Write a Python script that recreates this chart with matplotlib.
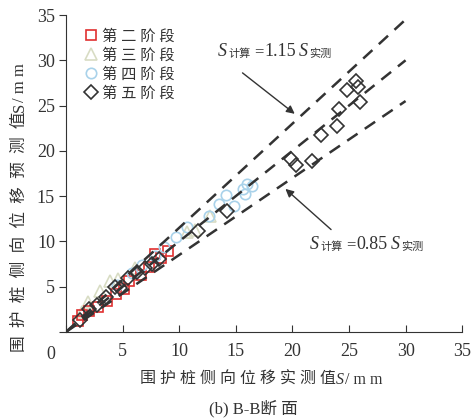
import matplotlib
matplotlib.use("Agg")
import matplotlib.pyplot as plt
from matplotlib.transforms import IdentityTransform

plt.rcParams['font.family'] = ['Liberation Serif', 'Noto Sans CJK SC']

# stage 2 (red squares)
s2_x = [1.1, 1.4, 2.0, 2.8, 3.6, 4.4, 5.1, 5.6, 6.6, 7.3, 7.9, 8.4, 9.0]
s2_y = [1.2, 1.9, 2.3, 2.8, 3.4, 4.2, 4.7, 5.6, 6.3, 7.2, 8.6, 8.2, 8.9]
# stage 3 (triangles)
s3_x = [1.4, 1.9, 3.0, 3.9, 4.6, 6.1, 10.7, 11.4, 12.7]
s3_y = [2.2, 3.3, 4.5, 5.6, 5.8, 7.1, 11.0, 11.3, 12.8]
# stage 4 (circles)
s4_x = [4.5, 5.8, 6.7, 7.9, 8.7, 9.7, 10.7, 12.6, 13.5, 14.1, 14.8, 15.6, 15.8, 16.0, 16.4]
s4_y = [5.2, 6.5, 7.4, 8.4, 9.4, 10.5, 11.6, 12.8, 14.1, 15.1, 13.9, 15.8, 15.2, 16.3, 16.1]
# stage 5 (diamonds)
s5_x = [1.2, 2.0, 2.7, 3.5, 4.3, 4.8, 5.5, 6.3, 7.0, 7.6, 8.2, 11.7, 14.2,
        19.9, 20.3, 21.7, 22.5, 23.9, 24.1, 24.8, 25.6, 25.8, 26.0]
s5_y = [1.3, 2.5, 3.0, 3.8, 5.0, 4.8, 5.9, 6.6, 7.1, 7.5, 8.0, 11.1, 13.3,
        19.1, 18.4, 18.9, 21.8, 22.7, 24.6, 26.7, 27.7, 27.1, 25.4]

labels = ['第 二 阶 段', '第 三 阶 段', '第 四 阶 段', '第 五 阶 段']
ratios = [1.15, 1.0, 0.85]
line_x = [0, 30]
ticks = [0, 5, 10, 15, 20, 25, 30, 35]

W, H = 475, 418
fig = plt.figure(figsize=(W / 100, H / 100), dpi=100)
ax = fig.add_axes([0.139, 0.206, 0.834, 0.758])
dark = '#333333'

for r in ratios:
    ax.plot(line_x, [v * r for v in line_x], color=dark, lw=1.8,
            dashes=(5, 3.5), zorder=3)

ax.plot(s2_x, s2_y, 's', ms=7, mfc='none', mec='#e03030', mew=1.2, label=labels[0], zorder=2)
ax.plot(s3_x, s3_y, '^', ms=8, mfc='none', mec='#d8dcc4', mew=1.2, label=labels[1], zorder=1)
ax.plot(s4_x, s4_y, 'o', ms=7.5, mfc='none', mec='#a9d2ea', mew=1.2, label=labels[2], zorder=2)
ax.plot(s5_x, s5_y, 'D', ms=7.5, mfc='none', mec=dark, mew=1.2, label=labels[3], zorder=4)

ax.set_xlim(0, 35)
ax.set_ylim(0, 35)
ax.set_xticks(ticks)
ax.set_yticks(ticks)
ax.set_xticklabels([''] + [str(t) for t in ticks[1:]])
ax.set_yticklabels([''] + [str(t) for t in ticks[1:]])
ax.tick_params(axis='x', direction='in', labelsize=13, length=5, pad=8)
ax.tick_params(axis='y', direction='out', labelsize=13, length=5, pad=3)
ax.spines['top'].set_visible(False)
ax.spines['right'].set_visible(False)
for s in ['left', 'bottom']:
    ax.spines[s].set_color(dark)
ax.tick_params(colors=dark)
ax.text(-1.3, -1.6, '0', ha='center', va='top', fontsize=13, color=dark)

leg = ax.legend(loc='upper left', bbox_to_anchor=(0.01, 1.0), frameon=False,
                fontsize=11, handletextpad=0.2, labelspacing=0.3, handlelength=1.0)
for t in leg.get_texts():
    t.set_color(dark)

ax.annotate('', xy=(20.4, 23.9), xytext=(15.4, 28.8),
            arrowprops=dict(arrowstyle='-|>', color=dark, lw=1.0, mutation_scale=12))
ax.annotate('', xy=(19.2, 16.0), xytext=(23.6, 11.1),
            arrowprops=dict(arrowstyle='-|>', color=dark, lw=1.0, mutation_scale=12))

fig.canvas.draw()
renderer = fig.canvas.get_renderer()


def draw_run(pieces, x, y, vertical=False):
    # pieces: (text, fontsize, italic, baseline shift, gap after) ; x, y in pixels from top-left
    y = H - y
    for s, fs, it, dy, gap in pieces:
        t = fig.text(x + (dy if vertical else 0), y - (0 if vertical else dy), s,
                     transform=IdentityTransform(), fontsize=fs, color=dark,
                     style='italic' if it else 'normal',
                     rotation=90 if vertical else 0, rotation_mode='anchor',
                     ha='left', va='baseline')
        bb = t.get_window_extent(renderer)
        if vertical:
            y = bb.y1 + gap
        else:
            x = bb.x1 + gap


def formula(coef, x, y):
    draw_run([('S', 13, True, 0, 1), ('计算', 8, False, 1, 4), ('=', 12, False, 0, 1),
              (coef, 13, False, 0, 3), ('S', 13, True, 0, 1), ('实测', 8, False, 1, 0)], x, y)


formula('1.15', 218, 56)
formula('0.85', 310, 249)

draw_run([('围 护 桩 侧 向 位 移 实 测 值', 11.5, False, 0, 0), ('S', 11.5, True, 0, 1),
          ('/ m m', 11.5, False, 0, 0)], 140, 384)
draw_run([('围  护  桩  侧  向  位  移  预  测  值', 12, False, 0, 0), ('S', 12, False, 0, 0),
          ('/ m m', 12, False, 0, 0)], 24, 352, vertical=True)
fig.text(253 / W, 5 / H, '(b) B-B断 面', ha='center', va='baseline', fontsize=12, color=dark)

fig.savefig('out.png', dpi=100)
